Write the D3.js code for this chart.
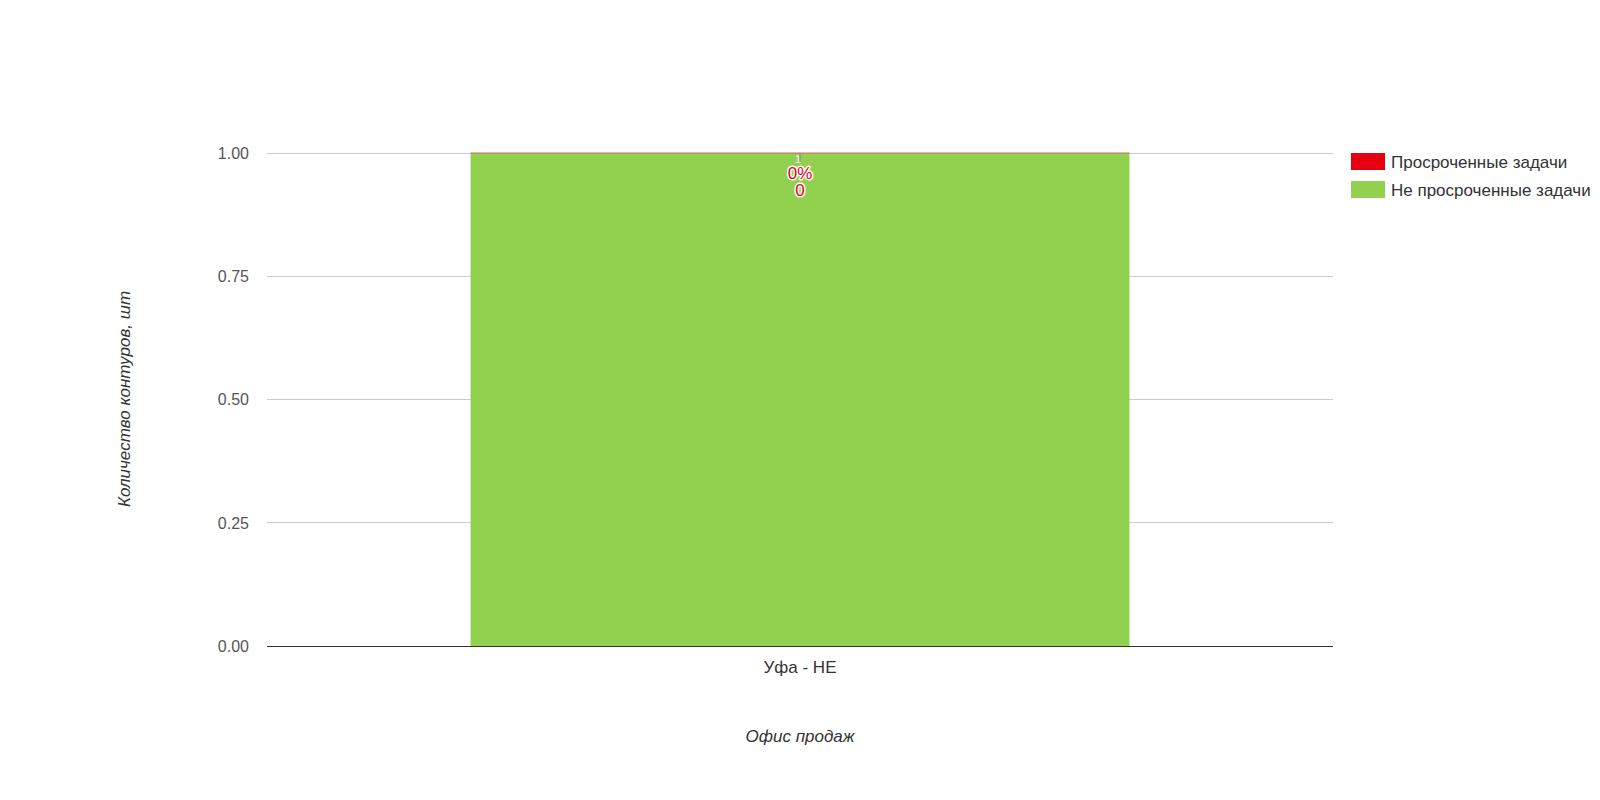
<!DOCTYPE html>
<html><head><meta charset="utf-8">
<script src="https://cdn.jsdelivr.net/npm/d3@7"></script>
<style>body{margin:0;background:#fff;font-family:Arial,"Liberation Sans",sans-serif;}</style>
</head><body>
<svg id="c" width="1600" height="800"></svg>
<script>
const categories = ["Уфа - НЕ"];
const seriesNames = ["Просроченные задачи", "Не просроченные задачи"];
const overdue = [0];
const notOverdue = [1];
const yTicks = [0, 0.25, 0.5, 0.75, 1.0];
const colors = ["#e60012", "#92d050"];

const svg = d3.select("#c");
const m = {l: 267, r: 1333, t: 153, b: 646};
const x = d3.scaleBand().domain(categories).range([m.l, m.r]).padding(0.236);
const y = d3.scaleLinear().domain([0, 1]).range([m.b, m.t]);

// gridlines
svg.append("g").selectAll("line").data(yTicks.filter(d => d !== 0)).join("line")
  .attr("x1", m.l).attr("x2", m.r).attr("y1", d => y(d)).attr("y2", d => y(d))
  .attr("stroke", "#cccccc").attr("stroke-width", 1).attr("shape-rendering", "crispEdges");

// y tick labels
svg.append("g").selectAll("text").data(yTicks).join("text")
  .attr("x", 249).attr("y", d => y(d)).attr("dy", "0.36em")
  .attr("text-anchor", "end").attr("font-size", 16).attr("fill", "#555")
  .text(d => d3.format(".2f")(d));

// stacked bars
const stackData = categories.map((c, i) => ({cat: c, a: overdue[i], b: notOverdue[i]}));
const stack = d3.stack().keys(["a", "b"])(stackData);
svg.append("g").selectAll("rect").data(stack[1]).join("rect")
  .attr("x", d => x(d.data.cat)).attr("width", x.bandwidth())
  .attr("y", d => y(d[1])).attr("height", d => y(d[0]) - y(d[1]))
  .attr("fill", colors[1]);
// overdue segment (zero height) shown as a thin edge on top of the stack
svg.append("g").selectAll("rect").data(stack[0]).join("rect")
  .attr("x", d => x(d.data.cat)).attr("width", x.bandwidth())
  .attr("y", (d, i) => y(stack[1][i][1]) - 0.5)
  .attr("height", 1)
  .attr("fill", "#e0606a");

// x axis baseline
svg.append("line").attr("x1", m.l).attr("x2", m.r).attr("y1", m.b).attr("y2", m.b)
  .attr("stroke", "#333").attr("stroke-width", 1).attr("shape-rendering", "crispEdges");

// category label
svg.append("g").selectAll("text").data(categories).join("text")
  .attr("x", d => x(d) + x.bandwidth() / 2).attr("y", 673)
  .attr("text-anchor", "middle").attr("font-size", 17).attr("fill", "#333").text(d => d);

// data labels
stackData.forEach((d, i) => {
  const cx = x(d.cat) + x.bandwidth() / 2;
  const top = y(d.a + d.b);
  svg.append("line").attr("x1", cx).attr("x2", cx).attr("y1", top).attr("y2", top + 9)
    .attr("stroke", "#8a8a9a").attr("stroke-width", 1.2);
  svg.append("text").attr("x", cx - 2).attr("y", top + 10).attr("text-anchor", "middle")
    .attr("font-size", 11).attr("fill", "#fff").text(notOverdue[i]);
  const pct = d.a / (d.a + d.b) * 100;
  const lbls = [d3.format(".0f")(pct) + "%", String(d.a)];
  lbls.forEach((t, j) => {
    svg.append("text").attr("x", cx).attr("y", top + 26 + j * 17).attr("text-anchor", "middle")
      .attr("font-size", 17).attr("fill", "#e60012")
      .attr("stroke", "#fff").attr("stroke-width", 3).attr("paint-order", "stroke")
      .attr("stroke-linejoin", "round").text(t);
  });
});

// axis titles
svg.append("text").attr("transform", "translate(130,399) rotate(-90)")
  .attr("text-anchor", "middle").attr("font-size", 17).attr("font-style", "italic")
  .attr("fill", "#333").text("Количество контуров, шт");
svg.append("text").attr("x", 800).attr("y", 742).attr("text-anchor", "middle")
  .attr("font-size", 17).attr("font-style", "italic").attr("fill", "#333").text("Офис продаж");

// legend
const lg = svg.append("g").selectAll("g").data(seriesNames).join("g")
  .attr("transform", (d, i) => `translate(1351,${153 + i * 28})`);
lg.append("rect").attr("width", 34).attr("height", 17).attr("fill", (d, i) => colors[i]);
lg.append("text").attr("x", 40).attr("y", 9).attr("dy", "0.36em")
  .attr("font-size", 17).attr("fill", "#333").text(d => d);
</script>
</body></html>
